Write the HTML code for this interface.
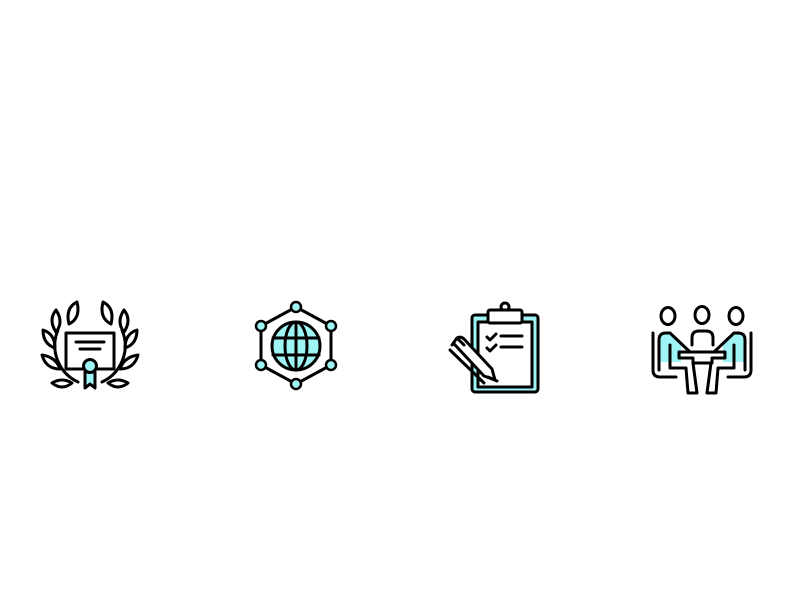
<!DOCTYPE html>
<html><head><style>html,body{margin:0;padding:0;background:#fff;width:800px;height:600px;overflow:hidden}</style></head>
<body>
<svg width="800" height="600" viewBox="0 0 800 600" xmlns="http://www.w3.org/2000/svg" fill="none" stroke="#000" stroke-width="3" stroke-linejoin="round" stroke-linecap="round">
<!-- Icon 1 laurel -->
<g>
<path d="M58 330 A40 40 0 0 0 78 382"/>
<path d="M122 330 A40 40 0 0 1 102 382"/>
<path d="M77 302 q-12 6 -8 22 q12 -6 8 -22z"/>
<path d="M103 302 q12 6 8 22 q-12 -6 -8 -22z"/>
<path d="M56 310 q-8 10 0 22 q8 -10 0 -22z"/>
<path d="M124 310 q8 10 0 22 q-8 -10 0 -22z"/>
<path d="M43 330 q0 14 12 18 q0 -14 -12 -18z"/>
<path d="M137 330 q0 14 -12 18 q0 -14 12 -18z"/>
<path d="M42 355 q4 14 18 14 q-4 -12 -18 -14z"/>
<path d="M138 355 q-4 14 -18 14 q4 -12 18 -14z"/>
<path d="M52 383 q10 8 20 0 q-10 -6 -20 0z"/>
<path d="M128 383 q-10 8 -20 0 q10 -6 20 0z"/>
<rect x="66" y="333" width="48" height="36" fill="#fff"/>
<line x1="76" y1="342" x2="104" y2="342"/>
<line x1="80" y1="349" x2="100" y2="349"/>
<path d="M85 372 L85 388 L90 384 L95 388 L95 372z" fill="#9ff5f5"/>
<circle cx="90" cy="366" r="6.5" fill="#9ff5f5"/>
</g>
<!-- Icon 2 globe -->
<g>
<polygon points="296,307 331,326 331,365 296,384 261,365 261,326"/>
<circle cx="296" cy="346" r="24" fill="#9ff5f5"/>
<ellipse cx="296" cy="346" rx="11" ry="24"/>
<line x1="296" y1="322" x2="296" y2="370"/>
<line x1="273" y1="338" x2="319" y2="338"/>
<line x1="273" y1="355" x2="319" y2="355"/>
<g fill="#9ff5f5" stroke-width="2.5">
<circle cx="296" cy="307" r="5"/><circle cx="331" cy="326" r="5"/><circle cx="331" cy="365" r="5"/>
<circle cx="296" cy="384" r="5"/><circle cx="261" cy="365" r="5"/><circle cx="261" cy="326" r="5"/>
</g>
</g>
<!-- Icon 3 clipboard -->
<g>
<rect x="472" y="315" width="66" height="77" rx="3" fill="#9ff5f5"/>
<rect x="478" y="322" width="54" height="65" fill="#fff"/>
<circle cx="505" cy="307" r="4" fill="#fff"/>
<rect x="488" y="310" width="34" height="13" rx="2" fill="#fff"/>
<path d="M487 337 l3 3 l6 -6"/>
<path d="M487 348 l3 3 l6 -6"/>
<line x1="501" y1="336" x2="522" y2="336"/>
<line x1="501" y1="347" x2="522" y2="347"/>
<path d="M452 345 l5 -7 q4 -2 7 1 l28 30 l3 11 l-11 -4 l-28 -30 q-2 -3 -4 -1z" fill="#fff"/>
<line x1="457" y1="338" x2="464" y2="345"/>
<line x1="450" y1="350" x2="484" y2="383"/>
<line x1="488" y1="377" x2="497" y2="381"/>
</g>
<!-- Icon 4 meeting -->
<g>
<ellipse cx="668" cy="316" rx="7" ry="8.5"/>
<ellipse cx="702" cy="315" rx="7" ry="8.5"/>
<ellipse cx="736" cy="316" rx="7" ry="8.5"/>
<path d="M659 333 L659 362 L681 362 L681 345 L672 337 Q668 333 663 333z" fill="#9ff5f5" stroke="none"/>
<path d="M745 333 L745 362 L723 362 L723 345 L732 337 Q736 333 741 333z" fill="#9ff5f5" stroke="none"/>
<path d="M659 370 L659 340 Q659 333 666 333 L670 333 L690 352"/>
<path d="M745 370 L745 340 Q745 333 738 333 L734 333 L714 352"/>
<path d="M692 345 L692 338 Q692 331 699 331 L706 331 Q713 331 713 338 L713 345"/>
<path d="M679 352 L725 352 L725 358 L712 358 L712 363 L693 363 L693 358 L679 358 z"/>
<path d="M653 333 L653 370 Q653 377 660 377 L676 377"/>
<path d="M751 333 L751 370 Q751 377 744 377 L728 377"/>
<path d="M670 345 L670 368 L686 368 L688 393 L697 393 L693 363"/>
<path d="M734 345 L734 368 L718 368 L716 393 L707 393 L711 363"/>
</g>
</svg>
</body></html>
